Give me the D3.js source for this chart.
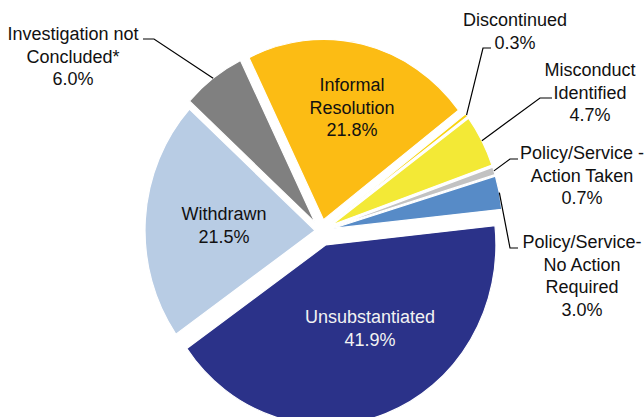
<!DOCTYPE html>
<html>
<head>
<meta charset="utf-8">
<script src="https://cdn.jsdelivr.net/npm/d3@7/dist/d3.min.js"></script>
<style>
  body { margin: 0; background: #fff; }
  text { font-family: "Liberation Sans", Arial, sans-serif; font-size: 18px; }
</style>
</head>
<body>
<div id="chart"></div>
<script>
// data (percent of closed complaints)
const categories = [
    "Informal Resolution", "Discontinued", "Misconduct Identified",
    "Policy/Service - Action Taken", "Policy/Service- No Action Required",
    "Unsubstantiated", "Withdrawn", "Investigation not Concluded*"
];
const values = [21.8, 0.3, 4.7, 0.7, 3.0, 41.9, 21.5, 6.0];
const labelLines = [
    ["Informal", "Resolution"], ["Discontinued"], ["Misconduct", "Identified"],
    ["Policy/Service -", "Action Taken"], ["Policy/Service-", "No Action", "Required"],
    ["Unsubstantiated"], ["Withdrawn"], ["Investigation not", "Concluded*"]
];

// styling
const colors = ["#FCBC14", "#F9D40F", "#F3E936", "#C2C2C2", "#578BC7", "#2B3289", "#B8CCE4", "#808080"];
const explode = [11, 12, 12, 12, 12, 14, 6, 10];

// label layout: centre x, first baseline y, text colour, leader elbow points (label side first)
const labelLayout = [
    { x: 352, y: 91, fill: "#111" },
    { x: 515, y: 26, fill: "#111", leader: [[491, 48], [483, 48]] },
    { x: 590, y: 76, fill: "#111", leader: [[552, 98], [540, 98]] },
    { x: 582, y: 159, fill: "#111", leader: [[518, 159], [510, 159]] },
    { x: 582, y: 248, fill: "#111", leader: [[518, 248], [510, 248]] },
    { x: 370, y: 323, fill: "#f2f2f2" },
    { x: 224, y: 220, fill: "#111" },
    { x: 73, y: 40, fill: "#111", leader: [[143, 39], [154, 39]] }
];

const width = 644;
const height = 417;
const cx = 321, cy = 231;
const radius = 170;
const stretchY = 1.06;   // the original chart is a little taller than wide
const lineHeight = 22.5;

const svg = d3.select("#chart")
    .append("svg")
    .attr("width", width)
    .attr("height", height);

const pie = d3.pie()
    .value(d => d)
    .sort(null)
    .startAngle(-26 * Math.PI / 180)
    .endAngle((360 - 26) * Math.PI / 180);

const arcs = pie(values);
const arc = d3.arc().innerRadius(0).outerRadius(radius);

// offset of a slice along its mid angle (unscaled space)
const shift = (d, i) => {
    const a = (d.startAngle + d.endAngle) / 2;
    return [explode[i] * Math.sin(a), -explode[i] * Math.cos(a)];
};

svg.append("g")
    .attr("transform", `translate(${cx},${cy}) scale(1,${stretchY})`)
    .selectAll("path")
    .data(arcs)
    .enter().append("path")
        .attr("transform", (d, i) => `translate(${shift(d, i)})`)
        .attr("d", arc)
        .attr("fill", (d, i) => colors[i])
        .attr("stroke", "#fff")
        .attr("stroke-width", 1.2)
        .attr("vector-effect", "non-scaling-stroke");

// leader lines from label to slice edge
const leaders = svg.append("g");
arcs.forEach((d, i) => {
    const lay = labelLayout[i];
    if (!lay.leader) return;
    const a = (d.startAngle + d.endAngle) / 2;
    const [ox, oy] = shift(d, i);
    const end = [cx + ox + radius * Math.sin(a), cy + stretchY * (oy - radius * Math.cos(a))];
    leaders.append("path")
        .attr("d", d3.line()(lay.leader.concat([end])))
        .attr("fill", "none")
        .attr("stroke", "#000")
        .attr("stroke-width", 1.2);
});

// labels
const label = svg.append("g")
    .selectAll("text")
    .data(arcs)
    .enter().append("text")
        .attr("text-anchor", "middle")
        .attr("fill", (d, i) => labelLayout[i].fill);

label.each(function(d, i) {
    const lines = labelLines[i].concat([values[i].toFixed(1) + "%"]);
    d3.select(this).selectAll("tspan")
        .data(lines)
        .enter().append("tspan")
            .attr("x", labelLayout[i].x)
            .attr("y", (t, j) => labelLayout[i].y + j * lineHeight)
            .text(t => t);
});
</script>
</body>
</html>
